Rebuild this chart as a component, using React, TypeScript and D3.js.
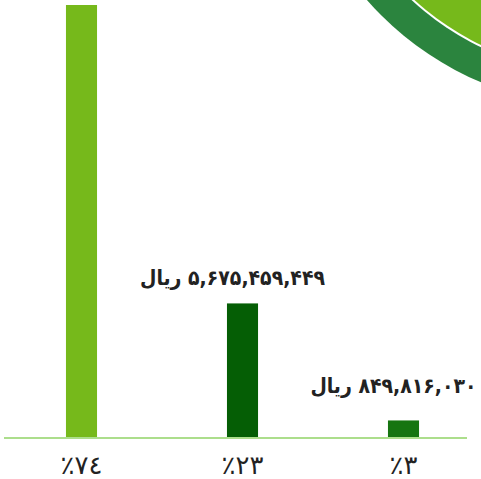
import { useEffect, useRef } from "react"
import * as d3 from "d3"

// سهم هر بخش (درصد) و مبالغ
const categories = ["a", "b", "c"]
const percents = [74, 23, 3]
const percentLabels = ["٪۷٤", "٪۲۳", "٪۳"]
const amountLabels = ["", "۵,۶۷۵,۴۵۹,۴۴۹ ریال", "۸۴۹,۸۱۶,۰۳۰ ریال"]

const barColors = ["#76b91b", "#055e05", "#167511"]

export default function App() {
  const svgRef = useRef(null)

  useEffect(() => {
    if (!svgRef.current) return
    document.body.style.margin = "0"

    const svg = d3.select(svgRef.current)
    svg.selectAll("*").remove()

    const width = 481
    const height = 479
    const baseY = 438

    const x = d3
      .scaleBand()
      .domain(categories)
      .range([1, 484])
      .paddingInner(0.807)
      .paddingOuter(0.4035)

    const y = d3.scaleLinear().domain([0, 74]).range([baseY, 5])

    // دایره تزئینی بالا سمت راست
    const deco = svg.append("g")
    deco.append("circle").attr("cx", 603).attr("cy", -207).attr("r", 314).attr("fill", "#2b843e")
    deco.append("circle").attr("cx", 603).attr("cy", -207).attr("r", 282).attr("fill", "#ffffff")
    deco.append("circle").attr("cx", 603).attr("cy", -207).attr("r", 280).attr("fill", "#76b91b")

    // ستون‌ها
    svg
      .selectAll(".bar")
      .data(percents)
      .enter()
      .append("rect")
      .attr("class", "bar")
      .attr("x", (_, i) => x(categories[i]))
      .attr("y", (d) => y(d))
      .attr("width", x.bandwidth())
      .attr("height", (d) => baseY - y(d))
      .attr("fill", (_, i) => barColors[i])

    // خط پایه
    svg
      .append("line")
      .attr("x1", 4)
      .attr("x2", 467)
      .attr("y1", baseY)
      .attr("y2", baseY)
      .attr("stroke", "#acde8c")
      .attr("stroke-width", 2)

    // برچسب مبالغ
    svg
      .selectAll(".amount")
      .data(percents)
      .enter()
      .append("text")
      .attr("class", "amount")
      .attr("x", (_, i) => x(categories[i]) + x.bandwidth() / 2 - 10)
      .attr("y", (d) => Math.min(y(d) - 18, baseY - 45))
      .attr("text-anchor", "middle")
      .attr("direction", "rtl")
      .attr("font-family", "DejaVu Sans Condensed, DejaVu Sans")
      .attr("font-weight", "bold")
      .attr("font-size", "21px")
      .attr("fill", "#222")
      .text((_, i) => amountLabels[i])

    // برچسب درصدها
    svg
      .selectAll(".pct")
      .data(percents)
      .enter()
      .append("text")
      .attr("class", "pct")
      .attr("x", (_, i) => x(categories[i]) + x.bandwidth() / 2)
      .attr("y", 474)
      .attr("text-anchor", "middle")
      .attr("font-family", "DejaVu Sans")
      .attr("font-size", "26px")
      .attr("fill", "#222")
      .style("unicode-bidi", "bidi-override")
      .style("direction", "ltr")
      .text((_, i) => percentLabels[i])

    svg.attr("width", width).attr("height", height).attr("viewBox", [0, 0, width, height])
  }, [])

  return (
    <div style={{ width: 481, height: 479, overflow: "hidden" }}>
      <svg ref={svgRef} style={{ display: "block" }}></svg>
    </div>
  )
}
